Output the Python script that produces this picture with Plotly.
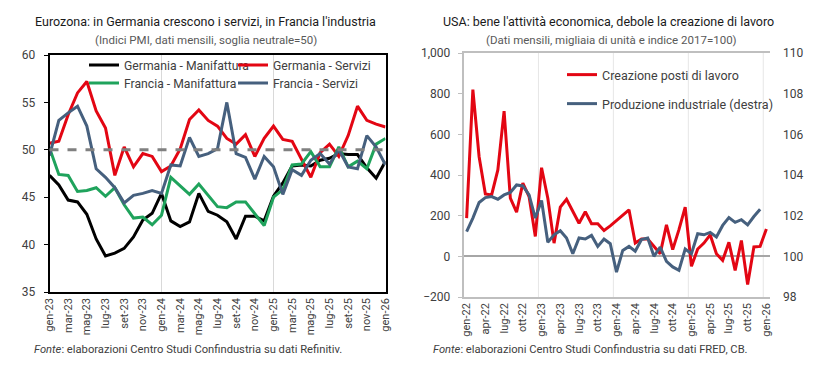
import plotly.graph_objects as go

# ---------------- data ----------------
mesi = ["gen", "feb", "mar", "apr", "mag", "giu", "lug", "ago", "set", "ott", "nov", "dic"]
anni_left = ["23", "24", "25"]
anni_right = ["22", "23", "24", "25"]
months_left = [f"{m}-{a}" for a in anni_left for m in mesi] + ["gen-26"]
months_right = [f"{m}-{a}" for a in anni_right for m in mesi] + ["gen-26"]

ger_man = [47.3, 46.3, 44.7, 44.5, 43.2, 40.6, 38.8, 39.1, 39.6, 40.8, 42.6, 43.3,
           45.4, 42.5, 41.9, 42.4, 45.4, 43.5, 43.1, 42.4, 40.6, 43.0, 43.0, 42.5,
           45.1, 46.5, 48.3, 48.4, 48.3, 48.9, 49.1, 49.6, 49.5, 49.5, 48.1, 47.0, 48.8]
ger_serv = [50.7, 50.9, 53.7, 56.0, 57.2, 54.1, 52.3, 47.3, 50.3, 48.2, 49.6, 49.3,
            47.7, 48.3, 50.1, 53.2, 54.2, 53.1, 52.5, 51.2, 50.6, 51.6, 49.3, 51.2,
            52.5, 51.1, 50.9, 49.0, 47.1, 49.7, 50.6, 49.3, 51.5, 54.6, 53.1, 52.7, 52.4]
fra_man = [50.2, 47.4, 47.3, 45.6, 45.7, 46.0, 45.1, 46.0, 44.2, 42.8, 42.9, 42.1,
           43.1, 47.1, 46.2, 45.3, 46.4, 45.2, 44.0, 43.9, 44.5, 44.5, 43.2, 42.0,
           45.0, 45.8, 48.4, 48.5, 49.8, 48.2, 48.2, 50.3, 48.2, 48.8, 48.0, 50.6, 51.2]
fra_serv = [49.4, 53.1, 53.9, 54.6, 52.5, 48.0, 47.1, 46.0, 44.4, 45.2, 45.4, 45.7,
            45.4, 48.4, 48.3, 51.3, 49.3, 49.6, 50.1, 55.0, 49.6, 49.2, 46.9, 49.3,
            48.2, 45.3, 47.9, 47.3, 48.9, 49.6, 48.5, 50.0, 48.2, 48.0, 51.5, 50.3, 48.4]
soglia = 50

jobs = [188, 820, 490, 307, 302, 425, 714, 286, 217, 360, 294, 98,
        436, 286, 65, 242, 281, 221, 163, 219, 160, 160, 127, 150,
        176, 206, 229, 65, 85, 85, 49, 13, 155, 33, 131, 242,
        -49, 36, 65, 106, 13, -20, 69, -69, 78, -139, 46, 49, 134]
ip = [101.22, 101.88, 102.65, 102.89, 102.94, 102.81, 103.02, 103.14, 103.51, 103.46, 103.02, 101.88,
      102.75, 100.69, 101.06, 101.26, 100.90, 100.13, 100.90, 100.85, 101.03, 100.49, 100.85, 100.62,
      99.22, 100.29, 100.49, 100.25, 100.82, 100.90, 100.00, 100.46, 99.75, 99.48, 99.31, 100.36,
      100.13, 101.11, 101.06, 101.18, 100.95, 101.52, 101.91, 101.67, 101.80, 101.55, 101.96, 102.32]

left_ticks = months_left[::2]
right_ticks = months_right[::3]
left_grid = ["gen-24", "gen-25"]

# ---------------- styling ----------------
W, H = 825, 390
OFF = 8  # page body margin in the browser
FONT = "Roboto"
TXT = "#404040"
RED = "#E30613"
GREEN = "#1FA35C"
BLUE = "#46607E"
GRAY = "#BFBFBF"


def px_x(p):
    return (p - OFF) / W


def px_y(p):
    return 1 - (p - OFF) / H


fig = go.Figure()

lw = 3
fig.add_trace(go.Scatter(x=months_left, y=ger_man, name="Germania - Manifattura", mode="lines",
                         line=dict(color="#000000", width=lw), xaxis="x", yaxis="y", legend="legend"))
fig.add_trace(go.Scatter(x=months_left, y=ger_serv, name="Germania - Servizi", mode="lines",
                         line=dict(color=RED, width=lw), xaxis="x", yaxis="y", legend="legend"))
fig.add_trace(go.Scatter(x=months_left, y=fra_man, name="Francia - Manifattura", mode="lines",
                         line=dict(color=GREEN, width=lw), xaxis="x", yaxis="y", legend="legend2"))
fig.add_trace(go.Scatter(x=months_left, y=fra_serv, name="Francia - Servizi", mode="lines",
                         line=dict(color=BLUE, width=lw), xaxis="x", yaxis="y", legend="legend2"))

fig.add_trace(go.Scatter(x=months_right, y=jobs, name="Creazione posti di lavoro", mode="lines",
                         line=dict(color=RED, width=lw), xaxis="x2", yaxis="y2", legend="legend3"))
fig.add_trace(go.Scatter(x=months_right[:len(ip)], y=ip, name="Produzione industriale (destra)", mode="lines",
                         line=dict(color=BLUE, width=lw), xaxis="x2", yaxis="y3", legend="legend4"))

tickfont = dict(family=FONT, size=11, color=TXT)

r_y0, r_y1 = px_y(297), px_y(53)
y2_range = [-200, 1000]
zero_pos = r_y0 + (r_y1 - r_y0) * (0 - y2_range[0]) / (y2_range[1] - y2_range[0])

fig.update_layout(
    width=W, height=H, margin=dict(l=0, r=0, t=0, b=0, autoexpand=False),
    paper_bgcolor="white", plot_bgcolor="white",
    font=dict(family=FONT, color=TXT),
    xaxis=dict(domain=[px_x(49.5), px_x(385.5)], anchor="y", type="category",
               categoryorder="array", categoryarray=months_left, automargin=False,
               range=[0, len(months_left) - 1], tickmode="array", tickvals=left_ticks,
               tickangle=-90, tickfont=tickfont, showgrid=False, zeroline=False,
               showline=True, linecolor="#000000", linewidth=1.5, mirror=True, ticks=""),
    yaxis=dict(domain=[px_y(292), px_y(55)], anchor="x", range=[35, 60], dtick=5, automargin=False,
               tickfont=dict(family=FONT, size=12, color=TXT), showgrid=False, zeroline=False,
               showline=True, linecolor="#000000", linewidth=1.5, mirror=True,
               ticks="outside", ticklen=4, tickcolor="#000000", ticklabelstandoff=6),
    xaxis2=dict(domain=[px_x(463.5), px_x(769.5)], anchor="y2", type="category",
                categoryorder="array", categoryarray=months_right, automargin=False,
                range=[-0.5, len(months_right) - 0.5], tickmode="array", tickvals=right_ticks,
                tickangle=-90, tickfont=tickfont, showgrid=False, zeroline=False,
                showline=True, linecolor=GRAY, linewidth=1.5, mirror=True, ticks=""),
    xaxis3=dict(overlaying="x2", anchor="free", position=zero_pos, type="linear",
                range=[-0.5, len(months_right) - 0.5], automargin=False,
                tickmode="array", tickvals=[k - 0.5 for k in range(0, len(months_right) + 1, 2)],
                showticklabels=False, ticks="outside", ticklen=3, tickcolor="#A6A6A6", tickwidth=1,
                showgrid=False, zeroline=False, showline=False),
    yaxis2=dict(domain=[r_y0, r_y1], anchor="x2", range=y2_range, dtick=200,
                automargin=False,
                tickformat=",", tickfont=dict(family=FONT, size=12, color=TXT), showgrid=False,
                zeroline=True, zerolinecolor="#A6A6A6", zerolinewidth=1.5,
                showline=True, linecolor=GRAY, linewidth=1.5,
                ticks="outside", ticklen=4, tickcolor=GRAY, ticklabelstandoff=5),
    yaxis3=dict(overlaying="y2", side="right", anchor="x2", range=[98, 110], dtick=2,
                automargin=False,
                tickfont=dict(family=FONT, size=12, color=TXT), showgrid=False, zeroline=False,
                showline=False, ticks="outside", ticklen=4, tickcolor="rgba(0,0,0,0)",
                ticklabelstandoff=6),
    showlegend=True,
)

legend_common = dict(orientation="h", bgcolor="rgba(0,0,0,0)", borderwidth=0,
                     xanchor="left", yanchor="middle", itemwidth=30)
left_legend_font = dict(family=FONT, size=12.2, color=TXT)
right_legend_font = dict(family=FONT, size=12.5, color=TXT)
fig.update_layout(
    legend=dict(x=px_x(84), y=px_y(65), entrywidth=104, font=left_legend_font, **legend_common),
    legend2=dict(x=px_x(84), y=px_y(83), entrywidth=104, font=left_legend_font, **legend_common),
    legend3=dict(x=px_x(562), y=px_y(75), font=right_legend_font, **legend_common),
    legend4=dict(x=px_x(562), y=px_y(104), font=right_legend_font, **legend_common),
)

shapes = [dict(type="line", xref="x domain", x0=0, x1=1, yref="y", y0=soglia, y1=soglia,
               line=dict(color="#808080", width=3, dash="dash"), layer="above")]
for m in left_grid:
    shapes.append(dict(type="line", xref="x", x0=m, x1=m, yref="y domain", y0=0, y1=1,
                       line=dict(color="#D9D9D9", width=1), layer="below"))
for k in range(12, len(months_right), 12):
    shapes.append(dict(type="line", xref="x2", x0=k - 0.5, x1=k - 0.5, yref="y2 domain", y0=0, y1=1,
                       line=dict(color="#E6E6E6", width=1), layer="below"))
fig.update_layout(shapes=shapes)

ann = []
ann.append(dict(text="Eurozona: in Germania crescono i servizi, in Francia l'industria",
                x=px_x(205), y=px_y(22), xref="paper", yref="paper", showarrow=False,
                font=dict(family=FONT, size=12.5, color="#1A1A1A"), xanchor="center", yanchor="middle"))
ann.append(dict(text="(Indici PMI, dati mensili, soglia neutrale=50)",
                x=px_x(206), y=px_y(40), xref="paper", yref="paper", showarrow=False,
                font=dict(family=FONT, size=11.5, color="#595959"), xanchor="center", yanchor="middle"))
ann.append(dict(text="USA: bene l'attività economica, debole la creazione di lavoro",
                x=px_x(608), y=px_y(22), xref="paper", yref="paper", showarrow=False,
                font=dict(family=FONT, size=12.5, color="#1A1A1A"), xanchor="center", yanchor="middle"))
ann.append(dict(text="(Dati mensili, migliaia di unità e indice 2017=100)",
                x=px_x(611), y=px_y(40), xref="paper", yref="paper", showarrow=False,
                font=dict(family=FONT, size=11.5, color="#595959"), xanchor="center", yanchor="middle"))
ann.append(dict(text="<i>Fonte</i>: elaborazioni Centro Studi Confindustria su dati Refinitiv.",
                x=px_x(32), y=px_y(349), xref="paper", yref="paper", showarrow=False,
                font=dict(family=FONT, size=11.2, color="#404040"), xanchor="left", yanchor="middle"))
ann.append(dict(text="<i>Fonte</i>: elaborazioni Centro Studi Confindustria su dati FRED, CB.",
                x=px_x(431), y=px_y(349), xref="paper", yref="paper", showarrow=False,
                font=dict(family=FONT, size=11.2, color="#404040"), xanchor="left", yanchor="middle"))
fig.update_layout(annotations=ann)

fig.write_html("out.html")
